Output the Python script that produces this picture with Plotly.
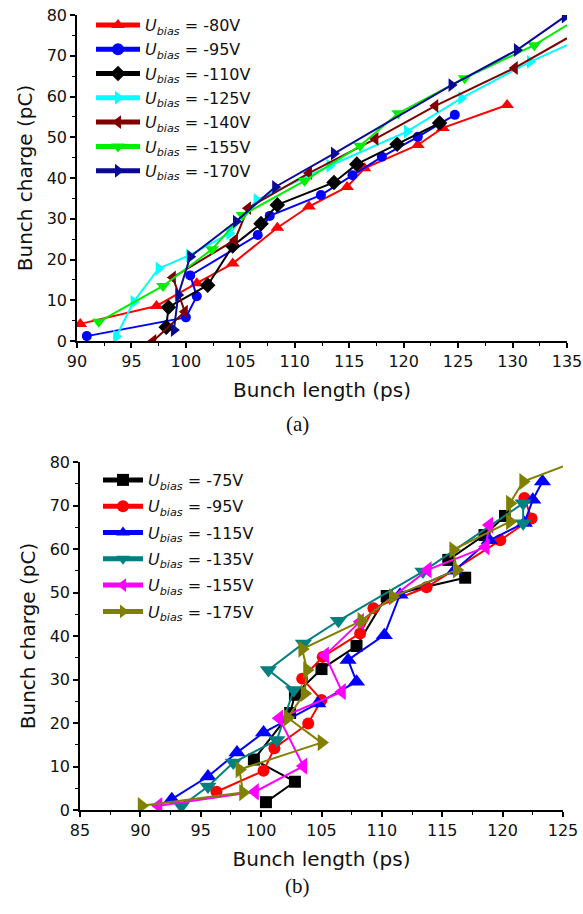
import plotly.graph_objects as go

# panel (a): bunch length (ps) / bunch charge (pC) per bias voltage
a_labels = ["-80V", "-95V", "-110V", "-125V", "-140V", "-155V", "-170V"]

a_x_80 = [90.3, 97.3, 101.0, 104.3, 108.4, 111.3, 114.8, 116.4, 121.3, 123.6, 129.5]
a_y_80 = [4.2, 8.6, 14.2, 19.0, 27.8, 33.0, 37.8, 42.4, 48.1, 52.3, 57.9]

a_x_95 = [90.9, 100.0, 101.0, 100.4, 106.6, 107.7, 112.4, 115.3, 118.0, 121.3, 124.7]
a_y_95 = [1.2, 5.8, 11.0, 16.1, 26.0, 30.7, 35.8, 40.7, 45.2, 50.1, 55.5]

a_x_110 = [98.2, 98.4, 102.0, 104.3, 106.9, 108.4, 113.6, 115.7, 119.4, 123.3]
a_y_110 = [3.4, 8.3, 13.7, 23.3, 28.8, 33.4, 38.9, 43.4, 48.3, 53.5]

a_x_125 = [93.6, 95.2, 97.5, 100.3, 104.0, 106.5, 113.2, 120.3, 125.3, 131.6, 135.0]
a_y_125 = [1.1, 9.6, 17.8, 21.0, 26.4, 34.6, 43.0, 51.4, 59.6, 68.5, 72.6]

a_x_140 = [97.0, 99.9, 98.8, 104.5, 105.7, 111.3, 117.4, 122.9, 130.2, 135.0]
a_y_140 = [0.0, 7.2, 15.6, 24.8, 32.6, 41.2, 49.6, 57.7, 67.0, 74.3]

a_x_155 = [92.0, 97.9, 102.4, 105.2, 110.9, 116.0, 119.5, 125.6, 132.0, 135.0]
a_y_155 = [4.7, 13.5, 22.5, 30.9, 39.3, 47.9, 55.9, 64.5, 72.6, 77.5]

a_x_170 = [98.9, 99.3, 100.4, 104.6, 108.2, 113.6, 124.4, 130.4, 134.8]
a_y_170 = [2.7, 11.3, 20.7, 29.3, 37.8, 46.0, 62.8, 71.4, 79.6]

# panel (b)
b_labels = ["-75V", "-95V", "-115V", "-135V", "-155V", "-175V"]

b_x_75 = [100.4, 102.8, 99.4, 102.4, 102.8, 105.0, 107.9, 110.4, 116.9, 115.5, 118.5, 120.2]
b_y_75 = [1.8, 6.5, 11.6, 22.3, 26.5, 32.4, 37.7, 49.2, 53.4, 57.5, 63.2, 67.6]

b_x_95 = [96.3, 100.2, 101.1, 103.9, 105.0, 103.4, 105.1, 108.2, 109.3, 113.7, 119.8, 122.4, 121.8]
b_y_95 = [4.2, 9.0, 14.2, 19.9, 25.3, 30.2, 35.2, 40.6, 46.4, 51.2, 62.0, 67.0, 71.7]

b_x_115 = [92.6, 95.6, 98.0, 100.2, 104.7, 107.9, 107.2, 110.2, 111.5, 116.0, 118.9, 121.8, 122.5, 123.3]
b_y_115 = [2.5, 7.7, 13.2, 17.8, 24.5, 29.5, 34.5, 40.2, 49.5, 55.0, 62.0, 66.0, 71.3, 75.5]

b_x_135 = [93.4, 95.6, 97.7, 101.3, 102.7, 100.6, 103.5, 106.4, 113.4, 121.7, 121.7]
b_y_135 = [0.9, 5.4, 10.9, 16.1, 27.6, 32.2, 38.3, 43.5, 54.8, 70.5, 65.9]

b_x_155 = [91.5, 99.5, 103.5, 101.5, 106.7, 105.3, 108.2, 113.8, 118.6, 118.9]
b_y_155 = [1.0, 4.2, 10.1, 21.1, 27.2, 35.6, 43.3, 55.2, 60.5, 65.5]

b_x_175 = [90.1, 98.5, 98.2, 105.0, 102.2, 103.6, 103.8, 103.4, 108.3, 110.9, 116.2, 115.9, 120.6, 120.6, 121.7, 125.0]
b_y_175 = [1.0, 4.0, 9.3, 15.5, 21.2, 26.8, 32.2, 37.0, 43.5, 49.0, 55.2, 59.8, 66.3, 70.5, 75.5, 79.0]

a_series = [(a_x_80, a_y_80), (a_x_95, a_y_95), (a_x_110, a_y_110), (a_x_125, a_y_125),
            (a_x_140, a_y_140), (a_x_155, a_y_155), (a_x_170, a_y_170)]
a_colors = ["#ff0000", "#0000ff", "#000000", "#00ffff", "#800000", "#00ee00", "#0a0a96"]
a_symbols = ["triangle-up", "circle", "diamond", "triangle-right", "triangle-left",
             "triangle-down", "triangle-right"]
a_open_end = [False, False, False, True, True, True, False]

b_series = [(b_x_75, b_y_75), (b_x_95, b_y_95), (b_x_115, b_y_115), (b_x_135, b_y_135),
            (b_x_155, b_y_155), (b_x_175, b_y_175)]
b_colors = ["#000000", "#ff0000", "#0000ff", "#008080", "#ff00ff", "#808000"]
b_symbols = ["square", "circle", "triangle-up", "triangle-down", "triangle-left", "triangle-right"]
b_open_end = [False, False, False, False, False, True]

SANS = "DejaVu Sans"
W, H = 583, 914


def label(v):
    return "<i>U</i><sub><i>bias</i></sub> = " + v


fig = go.Figure()

for i, (xs, ys) in enumerate(a_series):
    ms = 12 if a_symbols[i] != "circle" else 10
    sizes = [ms] * len(xs)
    if a_open_end[i]:
        sizes[-1] = 0
    fig.add_trace(go.Scatter(
        x=xs, y=ys, mode="lines+markers", name=label(a_labels[i]),
        line=dict(color=a_colors[i], width=2),
        marker=dict(symbol=a_symbols[i], size=sizes, color=a_colors[i], opacity=1,
                    line=dict(width=0)),
        xaxis="x", yaxis="y", legend="legend", legendgroup="a%d" % i,
    ))

for i, (xs, ys) in enumerate(b_series):
    ms = 15 if b_symbols[i] not in ("circle", "square") else 12
    sizes = [ms] * len(xs)
    if b_open_end[i]:
        sizes[-1] = 0
    fig.add_trace(go.Scatter(
        x=xs, y=ys, mode="lines+markers", name=label(b_labels[i]),
        line=dict(color=b_colors[i], width=2),
        marker=dict(symbol=b_symbols[i], size=sizes, color=b_colors[i], opacity=1,
                    line=dict(width=0)),
        xaxis="x2", yaxis="y2", legend="legend2", legendgroup="b%d" % i,
    ))

axis_common = dict(
    showline=True, linecolor="black", linewidth=1.5, mirror=False,
    showgrid=False, zeroline=False, ticks="outside", ticklen=5, tickwidth=1.5,
    tickcolor="black", tickfont=dict(family=SANS, size=16, color="#111"),
    minor=dict(ticks="outside", ticklen=3, tickwidth=1.2, tickcolor="black"),
    automargin=False, ticklabeloverflow="allow",
)
xtitle = dict(text="Bunch length (ps)", font=dict(family=SANS, size=20, color="#111"), standoff=13)
ytitle = dict(text="Bunch charge (pC)", font=dict(family=SANS, size=20, color="#111"), standoff=9)

fig.update_layout(
    template="none",
    width=W, height=H,
    margin=dict(l=0, r=0, t=0, b=0),
    paper_bgcolor="white", plot_bgcolor="white",
    xaxis=dict(axis_common, domain=[77 / W, 567 / W], range=[90, 135], dtick=5,
               minor_dtick=2.5, anchor="y", title=xtitle),
    yaxis=dict(axis_common, domain=[1 - 341 / H, 1 - 15 / H], range=[0, 80], dtick=10,
               minor_dtick=5, anchor="x", title=ytitle),
    xaxis2=dict(axis_common, domain=[80 / W, 563 / W], range=[85, 125], dtick=5,
                minor_dtick=2.5, anchor="y2", title=xtitle),
    yaxis2=dict(axis_common, domain=[1 - 810 / H, 1 - 462 / H], range=[0, 80], dtick=10,
                minor_dtick=5, anchor="x2", title=ytitle),
    legend=dict(x=91 / W, y=1 - 8 / H, xanchor="left", yanchor="top",
                bgcolor="rgba(0,0,0,0)", font=dict(family=SANS, size=16, color="#111"),
                tracegroupgap=0.5, itemsizing="constant", itemwidth=44),
    legend2=dict(x=98 / W, y=1 - 463 / H, xanchor="left", yanchor="top",
                 bgcolor="rgba(0,0,0,0)", font=dict(family=SANS, size=16, color="#111"),
                 tracegroupgap=2.5, itemsizing="constant", itemwidth=40),
    annotations=[
        dict(text="(a)", x=297 / W, y=1 - 424 / H, xref="paper", yref="paper",
             showarrow=False, font=dict(family="Liberation Serif", size=21, color="#111")),
        dict(text="(b)", x=297 / W, y=1 - 900 / H, xref="paper", yref="paper",
             showarrow=False, font=dict(family="Liberation Serif", size=21, color="#111")),
    ],
)

# the page has a default body margin; drop it so the figure sits at 0,0
fig.write_html("out.html", config={"displayModeBar": False},
               post_script="document.body.style.margin='0';")
